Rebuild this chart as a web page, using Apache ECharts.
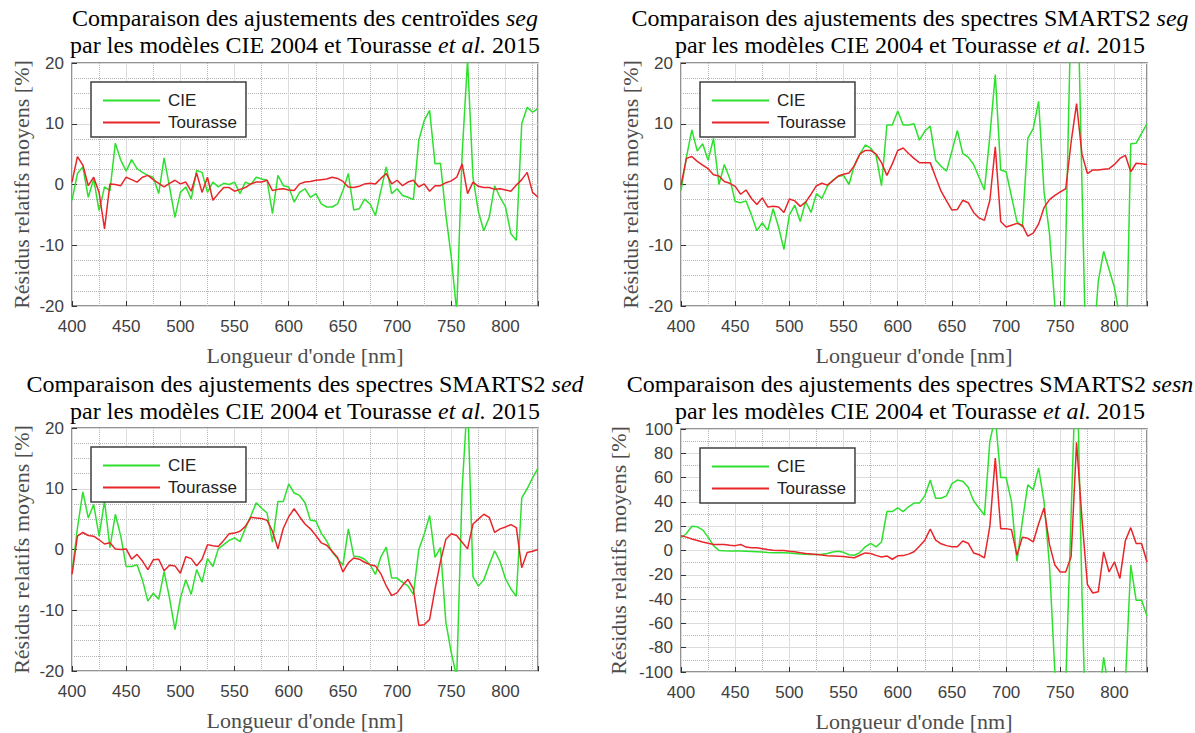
<!DOCTYPE html>
<html>
<head>
<meta charset="utf-8">
<script src="https://cdn.jsdelivr.net/npm/echarts@6/dist/echarts.min.js"></script>
<style>
  html, body { margin: 0; padding: 0; background: #fff; }
  #main { width: 1195px; height: 733px; }
</style>
</head>
<body>
<div id="main"></div>
<script>
// wavelength samples [nm]
const wavelengths = [
  400, 405, 410, 415, 420, 425, 430, 435, 440, 445,
  450, 455, 460, 465, 470, 475, 480, 485, 490, 495,
  500, 505, 510, 515, 520, 525, 530, 535, 540, 545,
  550, 555, 560, 565, 570, 575, 580, 585, 590, 595,
  600, 605, 610, 615, 620, 625, 630, 635, 640, 645,
  650, 655, 660, 665, 670, 675, 680, 685, 690, 695,
  700, 705, 710, 715, 720, 725, 730, 735, 740, 745,
  750, 755, 760, 765, 770, 775, 780, 785, 790, 795,
  800, 805, 810, 815, 820, 825, 830
];

// top-left: centroides seg
const segCentroidCIE = [
  -2.6, 1.8, 2.9, -2.1, 0.9, -4.3, -0.4, -1.0, 6.8, 4.0,
  2.2, 4.1, 2.6, 2.0, 1.5, 1.2, -1.5, 4.4, -0.4, -5.4,
  -1.3, -0.4, -2.4, 2.3, 2.0, -1.3, 0.4, -0.4, 0.2, 0.0,
  0.4, -1.5, 0.4, 0.0, 1.2, 0.9, 0.7, -4.8, 1.5, -0.2,
  -0.4, -2.9, -1.3, -0.7, -2.1, -1.5, -3.2, -3.7, -3.7, -3.2,
  -1.0, 1.8, -4.2, -4.0, -2.4, -3.2, -5.1, -1.0, 2.9, -1.5,
  -0.7, -1.8, -2.1, -2.5, 7.3, 10.5, 12.2, 3.4, 3.5, -5.0,
  -12.0, -21.0, 5.0, 20.5, 1.2, -4.5, -7.6, -5.4, -0.2, -2.1,
  -3.7, -8.1, -9.2, 10.0, 12.7, 11.9, 12.5
];
const segCentroidTourasse = [
  0.4, 4.6, 3.2, -0.2, 1.2, -1.3, -7.3, 0.1, 0.0, -0.2,
  1.2, 0.8, 0.4, 1.2, 1.5, 0.8, 0.2, -0.4, 0.2, 0.7,
  0.1, 0.4, -1.1, 1.9, -1.3, 1.2, -2.6, -1.5, -0.5, -0.5,
  -1.1, -0.8, -0.5, 0.1, 0.4, 0.4, 0.7, -1.0, -0.8, -0.7,
  -0.9, -1.0, 0.1, 0.4, 0.5, 0.7, 0.8, 0.9, 1.2, 1.0,
  0.5, -0.4, -0.5, -0.3, 0.1, 0.2, 0.1, 1.0, 1.8, 0.1,
  0.7, -0.2, 0.4, 0.7, -0.4, 0.1, -1.1, -0.2, -0.2, 0.3,
  0.6, 1.2, 3.4, -1.5, 0.4, -0.3, -0.5, -0.5, -0.8, -0.7,
  -0.9, -1.1, -0.1, 0.8, 2.0, -1.3, -2.1
];

// top-right: spectres SMARTS2 seg
const segSpectraCIE = [
  -1.0, 4.5, 9.0, 5.5, 6.7, 4.0, 7.6, 0.0, 3.3, 1.0,
  -2.8, -3.0, -2.7, -5.0, -7.6, -6.3, -7.6, -4.0, -7.0, -10.7,
  -5.0, -3.4, -6.1, -2.8, -4.6, -1.5, -2.3, -0.3, 0.7, 1.3,
  1.5, 0.0, 3.2, 5.0, 6.5, 6.0, 4.8, -0.2, 9.8, 9.8,
  12.1, 9.8, 9.8, 10.0, 7.3, 8.8, 9.6, 4.0, 3.0, 2.2,
  5.5, 8.9, 5.1, 4.5, 3.3, 1.2, -0.9, 8.0, 18.1, 2.4,
  2.1, -2.0, -6.1, -7.0, 7.6, 9.2, 13.7, -1.2, -8.0, -20.0,
  -45.0, -10.0, 30.0, 40.0, 0.0, -40.0, -28.0, -16.0, -11.0, -14.0,
  -17.0, -22.0, -35.0, 6.7, 6.8, 8.4, 10.0
];
const segSpectraTourasse = [
  -0.1, 4.3, 4.6, 3.8, 3.2, 2.6, 1.6, 1.4, 0.5, 0.2,
  -0.3, -1.6, -0.9, -2.3, -3.3, -2.2, -3.7, -3.6, -3.7, -4.6,
  -2.4, -2.7, -3.6, -2.9, -1.6, -0.2, 0.2, -0.1, 0.6, 1.4,
  1.7, 1.9, 3.1, 5.0, 5.6, 5.6, 5.0, 3.6, 1.5, 3.4,
  5.6, 6.0, 5.1, 4.3, 3.6, 3.6, 3.6, 1.2, -1.1, -2.7,
  -4.2, -4.1, -2.6, -3.0, -4.6, -5.5, -5.9, -2.6, 6.2, -6.1,
  -7.0, -6.7, -6.4, -6.7, -8.5, -8.0, -6.5, -3.8, -2.5, -1.8,
  -1.2, -0.7, 7.0, 13.3, 5.0, 1.8, 2.4, 2.4, 2.5, 2.6,
  3.3, 4.3, 4.8, 2.1, 3.5, 3.4, 3.3
];

// bottom-left: spectres SMARTS2 sed
const sedCIE = [
  -3.8, 3.5, 9.5, 5.2, 7.4, 2.2, 8.0, 0.3, 5.8, 2.2,
  -2.8, -2.8, -2.5, -5.0, -8.5, -7.2, -8.2, -3.6, -8.0, -13.2,
  -8.0, -5.0, -7.4, -3.3, -5.4, -1.5, -2.8, 0.1, 0.8, 1.5,
  1.9, 1.3, 3.5, 5.5, 7.7, 6.8, 6.0, 1.2, 7.9, 7.9,
  10.8, 9.3, 8.9, 7.7, 4.8, 4.7, 2.7, 1.4, -0.4, -1.5,
  -2.6, 3.4, -1.1, -1.2, -1.6, -2.5, -4.1, -1.2, 0.4, -4.7,
  -4.7, -5.4, -6.0, -7.4, 0.0, 2.5, 5.6, -1.3, 0.3, -12.0,
  -17.0, -21.0, 10.0, 25.0, -4.5, -6.0, -5.0, -2.5, -0.2, -2.0,
  -4.8, -6.5, -7.7, 8.5, 10.0, 11.8, 13.4
];
const sedTourasse = [
  -4.1, 2.2, 2.8, 2.3, 2.2, 1.6, 0.9, 1.1, 0.1, 0.0,
  0.1, -1.6, -0.8, -1.9, -3.3, -1.7, -1.6, -3.5, -2.6, -2.7,
  -3.9, -1.2, -1.5, -2.7, -1.6, 0.8, 0.6, 0.5, 1.5, 2.6,
  2.7, 3.0, 3.8, 5.3, 5.2, 5.1, 4.8, 3.0, 0.1, 3.5,
  5.4, 6.7, 5.4, 4.2, 3.4, 2.3, 1.1, 0.7, -0.3, -1.3,
  -3.7, -2.2, -1.4, -1.6, -2.1, -2.5, -2.7, -4.0, -6.0, -7.6,
  -7.1, -5.9, -4.9, -6.5, -12.5, -12.4, -11.5, -6.5, -2.0, 1.7,
  2.6, 2.3, 1.2, 0.1, 4.2, 5.0, 5.8, 5.3, 2.8, 3.4,
  3.7, 4.1, 3.6, -3.0, -0.5, -0.3, 0.0
];

// bottom-right: spectres SMARTS2 sesn
const sesnCIE = [
  10.5, 14, 20, 19.5, 17, 11, 4, 0, -0.3, -0.4,
  -0.5, -0.5, -0.6, -0.8, -1, -1.3, -1.7, -1.8, -1.8, -1.9,
  -2, -2.4, -2.9, -3, -3.2, -3.3, -3, -2.5, -1.2, -0.6,
  -1.5, -3.5, -3.9, -1.7, 3, 5.8, 3, 7, 32, 32,
  35, 32, 36, 39, 39, 45, 58, 43, 43, 45,
  55, 58, 57, 52, 41, 35, 29, 90, 110, 60,
  60, 40, -9, 24, 54, 50, 68, 40, -12, -100,
  -140, -110, 30, 170, -35, -200, -150, -130, -88, -115,
  -140, -150, -110, -12, -41, -41, -54
];
const sesnTourasse = [
  12.2, 11, 9.5, 8.3, 7, 6, 5, 5, 5, 4.3,
  4, 5, 2.8, 2.2, 2.2, 1.5, 0.8, 0.3, 0.1, 0,
  -0.6, -1.1, -1.8, -2.5, -2.9, -3.3, -3.8, -4.4, -4.5, -4.7,
  -5, -5.5, -6, -3.9, -2, -2.5, -4, -5.3, -4.5, -7.2,
  -4.4, -4.2, -3, -1, 3.5, 8.5, 17.7, 8.6, 5.5, 4,
  3, 3, 7.8, 6, -2, -3.5, -6, 20, 76, 18,
  18, 17, -4, 11, 10, 7, 22, 35, 5, -12,
  -17.7, -17.7, -5, 89, 26, -28, -35, -34, -1.1, -17.7,
  -9.4, -23, 8, 18.8, 5.8, 5.8, -9.4
];

const seriesNames = ['CIE', 'Tourasse'];
const titleLine2 = 'par les modèles CIE 2004 et Tourasse {i|et al.} 2015';

const panels = [
  { left: 72, top: 63, cie: segCentroidCIE, tou: segCentroidTourasse,
    title: 'Comparaison des ajustements des centroïdes {i|seg}',
    yMin: -20, yMax: 20, yStep: 10, yMinor: 2.5, nameGap: 40, titleX: 305, titleY: 18 },
  { left: 681, top: 63, cie: segSpectraCIE, tou: segSpectraTourasse,
    title: 'Comparaison des ajustements des spectres SMARTS2 {i|seg}',
    yMin: -20, yMax: 20, yStep: 10, yMinor: 2.5, nameGap: 40, titleX: 910, titleY: 18 },
  { left: 72, top: 428, cie: sedCIE, tou: sedTourasse,
    title: 'Comparaison des ajustements des spectres SMARTS2 {i|sed}',
    yMin: -20, yMax: 20, yStep: 10, yMinor: 2.5, nameGap: 40, titleX: 305, titleY: 384 },
  { left: 681, top: 429, cie: sesnCIE, tou: sesnTourasse,
    title: 'Comparaison des ajustements des spectres SMARTS2 {i|sesn}',
    yMin: -100, yMax: 100, yStep: 20, yMinor: 10, nameGap: 52, titleX: 910, titleY: 384 }
];

const W = 466, H = 243;
const serif = 'Liberation Serif';
const sans = 'Liberation Sans';
const green = '#2ee02e';
const red = '#e8262a';

const grids = [], xAxes = [], yAxes = [], series = [], legends = [], graphics = [];

const rich = {
  i: { fontStyle: 'italic', fontFamily: serif, fontSize: 24, fill: '#000' }
};

panels.forEach((p, k) => {
  grids.push({
    left: p.left, top: p.top, width: W, height: H,
    show: true, borderColor: '#707070', borderWidth: 1.5, backgroundColor: '#fff',
    containLabel: false, outerBoundsMode: 'none'
  });

  // main x axis: labels, ticks, solid grid
  xAxes.push({
    gridIndex: k, type: 'value', min: 400, max: 830, interval: 50, position: 'bottom',
    axisLine: { show: false, onZero: false },
    axisTick: { show: true, inside: true, length: 5, lineStyle: { color: '#333' } },
    axisLabel: {
      margin: 12, fontSize: 17, fontFamily: sans, color: '#404040',
      formatter: v => (v % 50 === 0 ? String(v) : '')
    },
    splitLine: { show: true, lineStyle: { color: '#dcdcdc', width: 1 } },
    name: "Longueur d'onde [nm]", nameLocation: 'middle', nameGap: 38,
    nameTextStyle: { fontFamily: serif, fontSize: 22, color: '#4d4d4d' }
  });
  // minor x axis: dotted grid every 25 nm
  xAxes.push({
    gridIndex: k, type: 'value', min: 400, max: 830, interval: 25, position: 'top',
    axisLine: { show: false, onZero: false }, axisTick: { show: false }, axisLabel: { show: false },
    splitLine: { show: true, lineStyle: { type: 'dotted', width: 1, color: ['rgba(0,0,0,0)', '#b4b4b4'] } }
  });

  yAxes.push({
    gridIndex: k, type: 'value', min: p.yMin, max: p.yMax, interval: p.yStep, position: 'left',
    axisLine: { show: false, onZero: false },
    axisTick: { show: true, inside: true, length: 5, lineStyle: { color: '#333' } },
    axisLabel: { margin: 8, fontSize: 17, fontFamily: sans, color: '#404040' },
    splitLine: { show: true, lineStyle: { color: '#dcdcdc', width: 1 } },
    name: 'Résidus relatifs moyens [%]', nameLocation: 'middle', nameGap: p.nameGap,
    nameTextStyle: { fontFamily: serif, fontSize: 22, color: '#4d4d4d' }
  });
  const per = Math.round(p.yStep / p.yMinor);
  const minorColors = [];
  for (let j = 0; j < per; j++) minorColors.push(j === 0 ? 'rgba(0,0,0,0)' : '#b4b4b4');
  yAxes.push({
    gridIndex: k, type: 'value', min: p.yMin, max: p.yMax, interval: p.yMinor, position: 'right',
    axisLine: { show: false, onZero: false }, axisTick: { show: false }, axisLabel: { show: false },
    splitLine: { show: true, lineStyle: { type: 'dotted', width: 1, color: minorColors } }
  });

  [[p.cie, green], [p.tou, red]].forEach(([vals, color], s) => {
    series.push({
      name: seriesNames[s], type: 'line',
      xAxisIndex: 2 * k, yAxisIndex: 2 * k,
      data: wavelengths.map((w, i) => [w, vals[i]]),
      showSymbol: false, symbol: 'none',
      lineStyle: { color: color, width: 1.5 },
      itemStyle: { color: color },
      clip: true, z: 3 + s
    });
  });

  legends.push({
    data: seriesNames, left: p.left + 19, top: p.top + 19,
    orient: 'vertical', icon: 'rect', itemWidth: 57, itemHeight: 2, itemGap: 5,
    padding: [10, 9, 6, 12], borderColor: '#404040', borderWidth: 1.5, borderRadius: 0,
    backgroundColor: '#fff', selectedMode: false,
    textStyle: { fontFamily: sans, fontSize: 17, color: '#222', padding: [0, 0, 0, 3] }
  });

  graphics.push({
    type: 'text', x: p.titleX, y: p.titleY,
    style: { text: p.title, rich: rich, align: 'center', verticalAlign: 'middle',
      fontFamily: serif, fontSize: 24, fill: '#000' }
  });
  graphics.push({
    type: 'text', x: p.titleX, y: p.titleY + 27,
    style: { text: titleLine2, rich: rich, align: 'center', verticalAlign: 'middle',
      fontFamily: serif, fontSize: 24, fill: '#000' }
  });
});

const chart = echarts.init(document.getElementById('main'), null, { renderer: 'svg' });
chart.setOption({
  animation: false,
  backgroundColor: '#fff',
  grid: grids,
  xAxis: xAxes,
  yAxis: yAxes,
  legend: legends,
  series: series,
  graphic: graphics
});
</script>
</body>
</html>
